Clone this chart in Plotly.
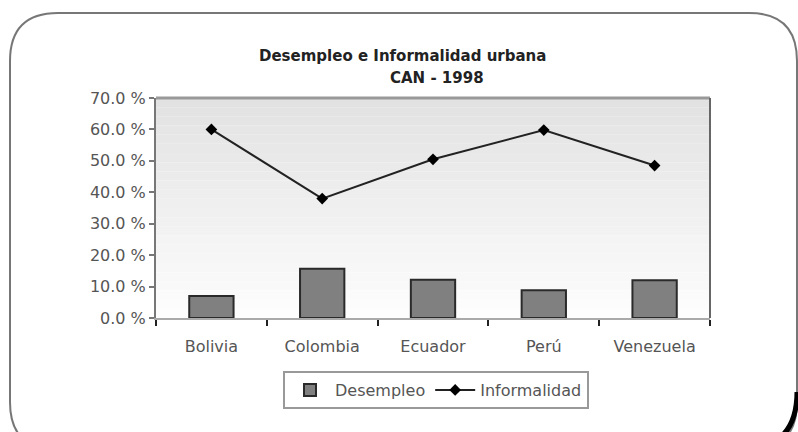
import plotly.graph_objects as go

# ---- data ----
paises = ["Bolivia", "Colombia", "Ecuador", "Perú", "Venezuela"]
desempleo = [0.070, 0.157, 0.122, 0.088, 0.120]
informalidad = [0.600, 0.380, 0.505, 0.598, 0.485]
y_tickvals = [0.0, 0.1, 0.2, 0.3, 0.4, 0.5, 0.6, 0.7]
y_ticktext = ["0.0 %", "10.0 %", "20.0 %", "30.0 %", "40.0 %", "50.0 %", "60.0 %", "70.0 %"]
titulo1 = "Desempleo e Informalidad urbana"
titulo2 = "CAN - 1998"

W, H = 798, 432
def px(x):
    return x / W
def py(y):
    return 1 - y / H

FONT = "DejaVu Sans"

fig = go.Figure()
fig.add_trace(go.Bar(
    x=paises, y=desempleo, name="Desempleo", width=0.4,
    marker=dict(color="#808080", line=dict(color="#2a2a2a", width=2)),
))
fig.add_trace(go.Scatter(
    x=paises, y=informalidad, name="Informalidad", mode="lines+markers",
    line=dict(color="#222222", width=2),
    marker=dict(symbol="diamond", size=9, color="#000000"),
))

shapes = []
# gradient background of plot area
n = 24
for i in range(n):
    t = i / (n - 1)
    c = int(round(0xe2 + (0xfd - 0xe2) * t))
    shapes.append(dict(type="rect", xref="x domain", yref="y domain",
                       x0=0, x1=1, y0=1 - (i + 1) / n, y1=1 - i / n,
                       fillcolor=f"rgb({c},{c},{c})", line=dict(width=0), layer="below"))
# top and right borders of plot area
shapes.append(dict(type="line", xref="x domain", yref="y domain", x0=0, x1=1, y0=1, y1=1,
                   line=dict(color="#999999", width=3)))
shapes.append(dict(type="line", xref="x domain", yref="y domain", x0=1, x1=1, y0=0, y1=1,
                   line=dict(color="#666666", width=2)))

# outer rounded frame
x0, x1, y0, y1, r = 10, 797, 13, 450, 48
path = (f"M {px(x0)},{py(y0 + r)} Q {px(x0)},{py(y0)} {px(x0 + r)},{py(y0)} "
        f"L {px(x1 - r)},{py(y0)} Q {px(x1)},{py(y0)} {px(x1)},{py(y0 + r)} "
        f"L {px(x1)},{py(y1 - r)} Q {px(x1)},{py(y1)} {px(x1 - r)},{py(y1)} "
        f"L {px(x0 + r)},{py(y1)} Q {px(x0)},{py(y1)} {px(x0)},{py(y1 - r)} Z")
shapes.append(dict(type="path", xref="paper", yref="paper", path=path,
                   line=dict(color="#777777", width=2)))
# dark shadow at bottom-right corner
spath = (f"M {px(x1)},{py(y1 - r - 10)} Q {px(x1)},{py(y1)} {px(x1 - r - 10)},{py(y1)}")
shapes.append(dict(type="path", xref="paper", yref="paper", path=spath,
                   line=dict(color="#000000", width=5)))

fig.update_layout(
    width=W, height=H,
    margin=dict(l=0, r=0, t=0, b=0),
    paper_bgcolor="white", plot_bgcolor="white",
    showlegend=True,
    font=dict(family=FONT, size=16, color="#555555"),
    xaxis=dict(domain=[px(156), px(710)], automargin=False,
               showline=True, linecolor="#aaaaaa", linewidth=2,
               ticks="outside", tickson="boundaries", ticklen=6, tickwidth=2, tickcolor="#222222",
               ticklabelstandoff=13, showgrid=False, zeroline=False,
               tickfont=dict(family=FONT, size=16, color="#555555")),
    yaxis=dict(domain=[py(318), py(98)], automargin=False, range=[0, 0.7],
               tickvals=y_tickvals, ticktext=y_ticktext,
               showline=True, linecolor="#777777", linewidth=2,
               ticks="outside", ticklen=5, tickwidth=2, tickcolor="#777777",
               showgrid=False, zeroline=False,
               tickfont=dict(family=FONT, size=16, color="#555555")),
    legend=dict(orientation="h", x=px(436), xanchor="center", y=py(390), yanchor="middle",
                bordercolor="#999999", borderwidth=2, bgcolor="white",
                font=dict(family=FONT, size=16, color="#555555"),
                itemwidth=40, tracegroupgap=0),
    shapes=shapes,
    annotations=[
        dict(text="<b>" + titulo1 + "</b>", xref="paper", yref="paper", x=px(402), y=py(45),
             showarrow=False, font=dict(family=FONT, size=15, color="#222222")),
        dict(text="<b>" + titulo2 + "</b>", xref="paper", yref="paper", x=px(437), y=py(67),
             showarrow=False, font=dict(family=FONT, size=15, color="#222222")),
    ],
    bargap=0.6,
)

fig.write_html("out.html", config={"displayModeBar": False},
               post_script="document.body.style.margin='0px';")
